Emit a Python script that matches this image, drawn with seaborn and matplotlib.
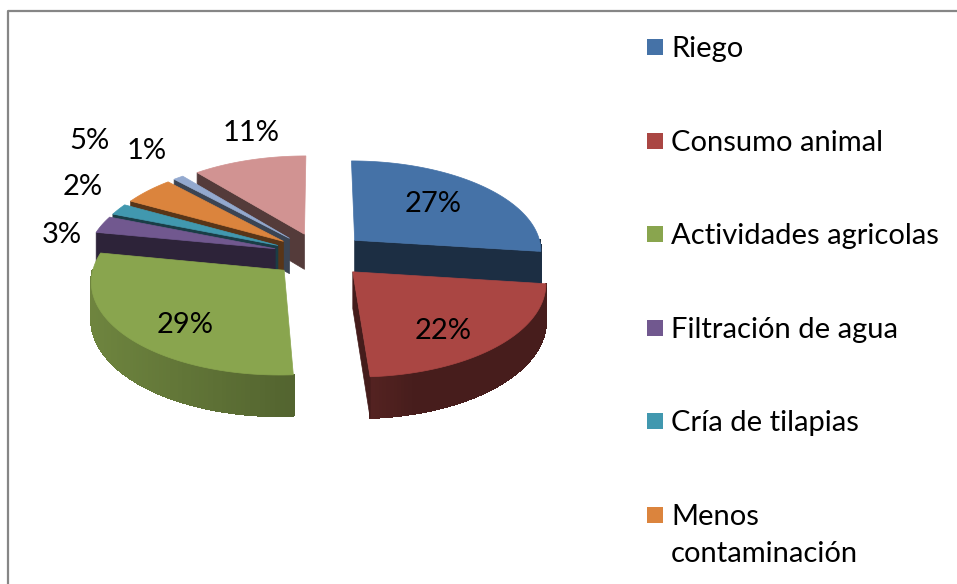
#!/usr/bin/env python3
"""Exploded 3D style pie of water uses, with a legend cut off by the frame."""
import numpy as np
import matplotlib
matplotlib.use('Agg')
import matplotlib.pyplot as plt
from matplotlib.collections import PolyCollection
from matplotlib.patches import Rectangle
import seaborn as sns

values = [27, 22, 29, 3, 2, 5, 1, 11]
categories = ['Riego', 'Consumo animal', 'Actividades agricolas', 'Filtración de agua',
              'Cría de tilapias', 'Menos\ncontaminación']
colors = ['#4572A7', '#AA4643', '#89A54E', '#71588F', '#4198AF', '#DB843D', '#93A9CF', '#D19392']

# projection of the pie disc, in pixels
CX, CY = 320, 255
RX, RY = 188, 90.5
PERSP = 0.104
EXPLODE = 0.25
DEPTH = 36

# label placement: radius inside the slice, or pixel offset from the rim
label_inside = {0: (0.6, 0, -3), 1: (0.6, 6, 16), 2: (0.6, -8, 16)}
label_offset = {3: (-40, 10), 4: (-36, -22), 5: (-59, -50), 6: (-32, -27), 7: (2, -27)}


def project(x, y):
    s = 1 / (1 - PERSP * y)
    return CX + RX * x * s, CY + RY * y * s, s


def shade(color, f):
    return tuple(np.array(matplotlib.colors.to_rgb(color)) * f)


def draw_slice(ax, start, end, color):
    mid = (start + end) / 2
    ex, ey = EXPLODE * np.sin(mid), -EXPLODE * np.cos(mid)
    theta = np.linspace(start, end, 80)
    xs, ys, ss = project(ex + np.sin(theta), ey - np.cos(theta))
    ax_, ay_, as_ = project(ex, ey)

    # outer wall on the front half only, darker towards the right
    polys, cols = [], []
    for i in range(len(theta) - 1):
        if np.cos(theta[i]) > 0 and np.cos(theta[i + 1]) > 0:
            continue
        polys.append([(xs[i], ys[i]), (xs[i + 1], ys[i + 1]),
                      (xs[i + 1], ys[i + 1] + DEPTH * ss[i + 1]), (xs[i], ys[i] + DEPTH * ss[i])])
        f = np.interp(xs[i], [CX - RX * 1.2, CX, CX + RX * 0.5, CX + RX * 1.2], [0.8, 0.58, 0.42, 0.42])
        cols.append(shade(color, f))
    ax.add_collection(PolyCollection(polys, facecolors=cols, edgecolors=cols, linewidths=1,
                                     antialiaseds=False))

    # cut faces, only those turned towards the viewer
    for i, facing in ((0, -np.sin(start)), (-1, np.sin(end))):
        if facing <= 1e-6:
            continue
        face = [(ax_, ay_), (xs[i], ys[i]), (xs[i], ys[i] + DEPTH * ss[i]), (ax_, ay_ + DEPTH * as_)]
        ax.fill(*zip(*face), color=shade(color, 0.4), lw=0.5)

    # top
    ax.fill(np.r_[ax_, xs], np.r_[ay_, ys], color=color, lw=0.5)


sns.set_theme(style='white')
plt.rcParams['font.family'] = ['Lato', 'DejaVu Sans']

fig = plt.figure(figsize=(9.57, 5.84), dpi=100)
ax = fig.add_axes([0, 0, 1, 1])
ax.set_xlim(0, 957)
ax.set_ylim(584, 0)
ax.axis('off')

# chart frame
ax.plot([8, 8, 957], [584, 11, 11], color='#868686', lw=1.6)

fractions = np.array(values) / sum(values)
edges = np.r_[0, np.cumsum(fractions)] * 2 * np.pi
mids = (edges[:-1] + edges[1:]) / 2
# back slices first so the front ones cover them
order = sorted(range(len(values)), key=lambda i: -np.cos(mids[i]))

for i in order:
    draw_slice(ax, edges[i], edges[i + 1], colors[i])

for i, v in enumerate(values):
    ex, ey = EXPLODE * np.sin(mids[i]), -EXPLODE * np.cos(mids[i])
    if i in label_inside:
        r, dx, dy = label_inside[i]
    else:
        r = 1
        dx, dy = label_offset[i]
    x, y, _ = project(ex + r * np.sin(mids[i]), ey - r * np.cos(mids[i]))
    ax.text(x + dx, y + dy, f'{v}%', ha='center', va='center', fontsize=21, color='black')

# legend, the last rows fall outside the picture
for i, name in enumerate(categories):
    y = 47 + i * 93.6
    ax.add_patch(Rectangle((647, y - 8), 16, 16, color=colors[i], lw=0))
    ax.text(671, y - 11, name, ha='left', va='top', fontsize=21, color='black', linespacing=1.52)

fig.savefig('out.png', dpi=100)
